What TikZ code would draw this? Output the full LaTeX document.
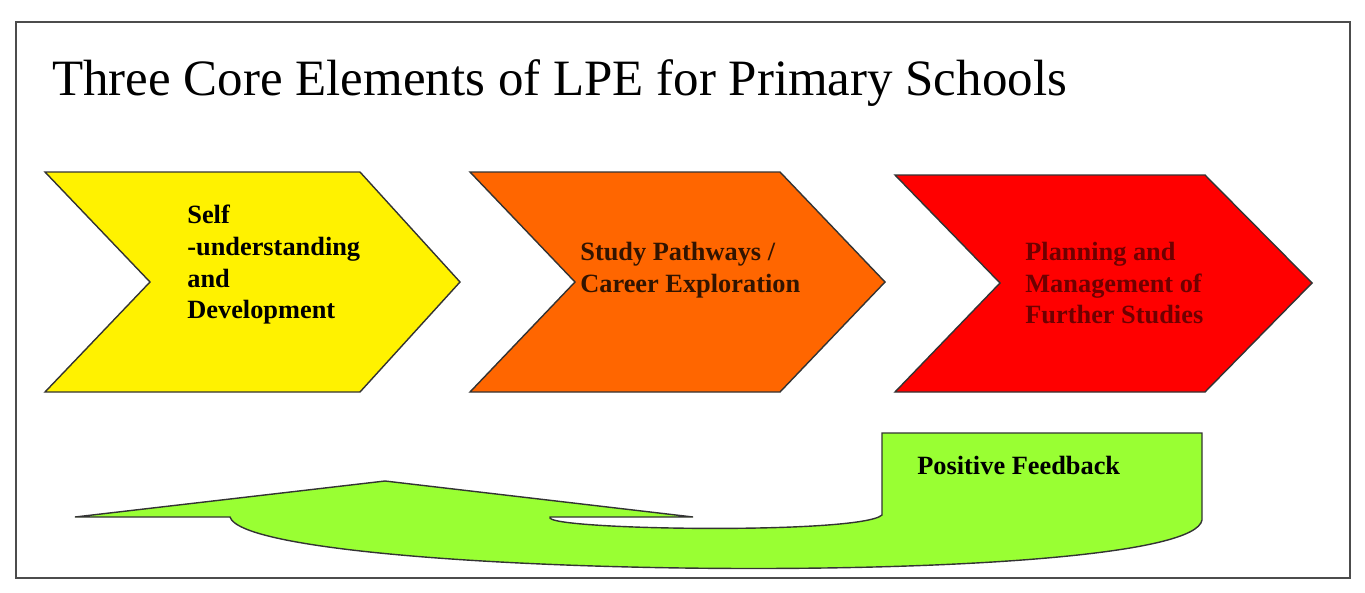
\documentclass[tikz,border=0pt]{standalone}
\usepackage{fontspec}
\setmainfont{Liberation Serif}
\tikzstyle{chevron} = [draw=black!80, thick]
\tikzstyle{label} = [anchor=north west, align=left, font=\fontsize{15}{18}\selectfont\bfseries, inner sep=0pt]
\tikzstyle{frame} = [draw=black!70, very thick]
\begin{document}
\begin{tikzpicture}[x=0.02cm, y=-0.02cm]
\useasboundingbox (0,0) rectangle (1365,592);
\draw [frame] (16,22) rectangle (1350,578);

\node (title) [anchor=base west, inner sep=0pt, font=\fontsize{29}{34}\selectfont] at (52,95) {Three Core Elements of LPE for Primary Schools};

% chevrons
\draw [chevron, fill=yellow] (45,172) -- (360,172) -- (460,282) -- (360,392) -- (45,392) -- (150,282) -- cycle;
\draw [chevron, fill={rgb,255:red,255;green,102;blue,0}] (470,172) -- (780,172) -- (885,282) -- (780,392) -- (470,392) -- (575,282) -- cycle;
\draw [chevron, fill=red] (895,175) -- (1205,175) -- (1312,283) -- (1205,392) -- (895,392) -- (1000,283) -- cycle;

\node (self) [label, text=black] at (187,205) {Self\\-understanding\\and\\Development};
\node (study) [label, text={rgb,255:red,50;green,20;blue,0}] at (580,242) {Study Pathways /\\Career Exploration};
\node (plan) [label, text={rgb,255:red,110;green,0;blue,0}] at (1025,242) {Planning and\\Management of\\Further Studies};

% feedback arrow
\draw [chevron, fill={rgb,255:red,153;green,255;blue,51}] (75,517) -- (385,481) -- (693,517) -- (550,517)
  .. controls (540,530) and (860,535) .. (882,515) -- (882,433) -- (1202,433) -- (1202,520)
  .. controls (1190,590) and (250,580) .. (230,517) -- cycle;
\node (feedback) [label] at (917,456) {Positive Feedback};
\end{tikzpicture}
\end{document}
